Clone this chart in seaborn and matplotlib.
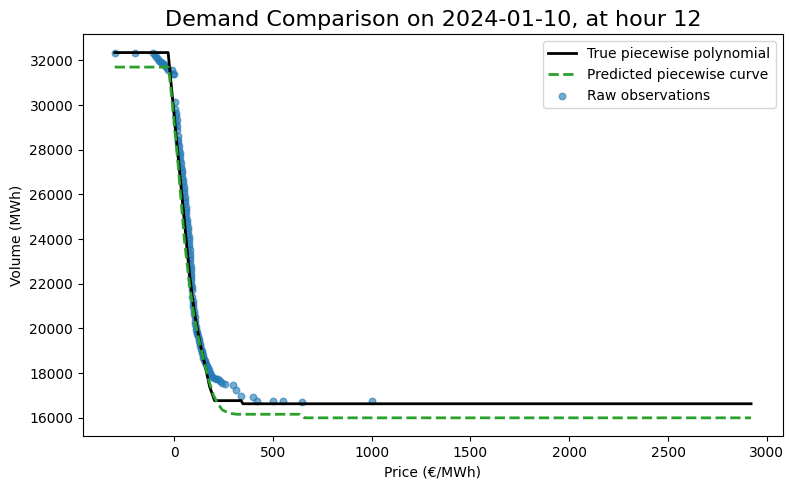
import numpy as np
import pandas as pd
import matplotlib
matplotlib.use("Agg")
import matplotlib.pyplot as plt
import seaborn as sns

# === Data ===
true_price = [-300, -30, 0, 30, 61, 80, 103, 130, 154, 180, 205, 215, 340, 348, 2920]
true_volume = [32350, 32350, 29600, 26850, 24000, 22300, 20700, 19400, 18450, 17400, 16770, 16770, 16770, 16630, 16630]

pred_price = [-300, -28, -10, 20, 52, 75, 100, 125, 150, 175, 200, 220, 245, 280, 320, 635, 660, 2920]
pred_volume = [31700, 31700, 30200, 27400, 24000, 22200, 20600, 19500, 18600, 17700, 17000, 16650, 16350, 16200, 16160, 16160, 16000, 16000]

obs_price = [-300, -200, -105, -98, -90, -82, -75, -68, -60, -52, -45, -38, -30,
             -12, -5, 2, 5, 7, 9, 10, 12, 13, 15, 16, 18, 20, 22, 24, 26, 28,
             30, 32, 34, 36, 38, 40, 42, 44, 46, 48, 50, 51, 53, 55, 56, 58,
             60, 62, 63, 65, 67, 69, 71, 72, 74, 76, 77, 78, 79, 80, 81, 83,
             82, 84, 84, 86, 85, 88, 87, 90, 89, 92, 94, 96, 98, 100, 102, 104,
             106, 108, 110, 112, 115, 118, 121, 124, 127, 130, 133, 136, 139,
             142, 145, 148, 152, 155, 158, 162, 166, 170, 175, 180, 185, 190,
             200, 210, 220, 232, 245, 258, 300, 315, 340, 400, 420, 500, 550,
             650, 1000]
obs_volume = [32350, 32350, 32350, 32250, 32150, 32050, 31980, 31920, 31880, 31820, 31760, 31680, 31550,
              31550, 31400, 31370, 30150, 29820, 29500, 29650, 29200, 29350, 28900, 29050, 28600, 28450, 28300, 28150, 28000, 27850,
              27700, 27550, 27400, 27250, 27100, 26950, 26800, 26650, 26500, 26350, 26200, 26050, 25900, 25750, 25600, 25450,
              25300, 25150, 25000, 24850, 24700, 24550, 24400, 24250, 24100, 23950, 23800, 23650, 23500, 23350, 23200, 23050,
              22900, 22750, 22600, 22450, 22300, 22150, 22000, 21850, 21700, 21400, 21250, 21100, 20950, 20800, 20650, 20500,
              20350, 20200, 20050, 19950, 19850, 19750, 19650, 19550, 19420, 19300, 19200, 19100, 19000,
              18900, 18800, 18700, 18620, 18550, 18480, 18400, 18320, 18250, 18120, 18000, 17920, 17850,
              17780, 17750, 17720, 17650, 17580, 17500, 17450, 17250, 16980, 16920, 16760, 16740, 16740,
              16720, 16740]

true_df = pd.DataFrame({"price": true_price, "volume": true_volume})
pred_df = pd.DataFrame({"price": pred_price, "volume": pred_volume})
obs_df = pd.DataFrame({"price": obs_price, "volume": obs_volume})

# === Plot ===
fig, ax = plt.subplots(figsize=(7.9, 4.9), dpi=100)
sns.lineplot(data=true_df, x="price", y="volume", color="black", linewidth=2,
             estimator=None, sort=False, label="True piecewise polynomial", ax=ax)
sns.lineplot(data=pred_df, x="price", y="volume", color="tab:green", linewidth=2,
             linestyle="--", estimator=None, sort=False,
             label="Predicted piecewise curve", ax=ax)
sns.scatterplot(data=obs_df, x="price", y="volume", color="tab:blue", alpha=0.6,
                s=22, linewidth=1, edgecolor="face", label="Raw observations", ax=ax)

ax.set_title("Demand Comparison on 2024-01-10, at hour 12", fontsize=16)
ax.set_xlabel("Price (€/MWh)")
ax.set_ylabel("Volume (MWh)")
ax.legend(loc="upper right")
fig.subplots_adjust(left=0.105, right=0.991, top=0.930, bottom=0.110)
plt.savefig("out.png")
